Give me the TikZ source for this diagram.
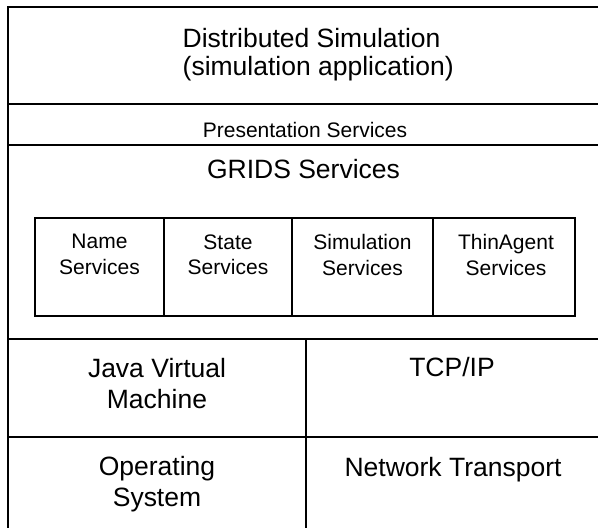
\documentclass[tikz,border=0pt]{standalone}
\usepackage{fontspec}
\setmainfont{Liberation Sans}
\begin{document}
\begin{tikzpicture}[x=1pt,y=-1pt,
  frame/.style={line width=2pt},
  svcbox/.style={draw, line width=1.3pt, inner sep=0pt, minimum height=98pt},
  big/.style={font=\fontsize{26.5}{31}\selectfont, inner sep=0pt},
  small/.style={font=\fontsize{21}{25.7}\selectfont, inner sep=0pt}]
\useasboundingbox (0,0) rectangle (598,528);
% frame lines
\coordinate (tl) at (8,7);
\coordinate (tr) at (598,7);
\coordinate (bl) at (8,528);
\draw[frame] (bl) -- (tl) -- (tr);
\draw[frame] (8,104) -- (598,104);
\draw[frame] (8,145) -- (598,145);
\draw[frame] (8,339) -- (598,339);
\draw[frame] (8,437) -- (598,437);
\draw[frame] (306,339) -- (306,528);
% texts of layers
\node[big, anchor=north west, align=left, font=\fontsize{26.5}{28.5}\selectfont] (app) at (182.5,28) {Distributed Simulation\\(simulation application)};
\node[small, anchor=base] (pres) at (305,137) {Presentation Services};
\node[big, anchor=base] (grids) at (303.5,178) {GRIDS Services};
% service boxes
\node[svcbox, minimum width=129pt] (nameB) at (99.5,267) {};
\node[svcbox, minimum width=128pt] (stateB) at (228,267) {};
\node[svcbox, minimum width=141pt] (simB) at (362.5,267) {};
\node[svcbox, minimum width=142pt] (thinB) at (504,267) {};
\node[small, anchor=north, align=center] (nameT) at (99.5,234.3) {Name\\Services};
\node[small, anchor=north, align=center] (stateT) at (228,234.3) {State\\Services};
\node[small, anchor=north, align=center] (simT) at (362.5,234.3) {Simulation\\Services};
\node[small, anchor=north, align=center] (thinT) at (506,234.3) {ThinAgent\\Services};
% lower layers
\node[big, anchor=north, align=center] (jvm) at (157,358) {Java Virtual\\Machine};
\node[big, anchor=north, align=center] (os) at (157,456.5) {Operating\\System};
\node[big, anchor=base] (tcp) at (452,376) {TCP/IP};
\node[big, anchor=base] (net) at (453,476) {Network Transport};
\end{tikzpicture}
\end{document}
